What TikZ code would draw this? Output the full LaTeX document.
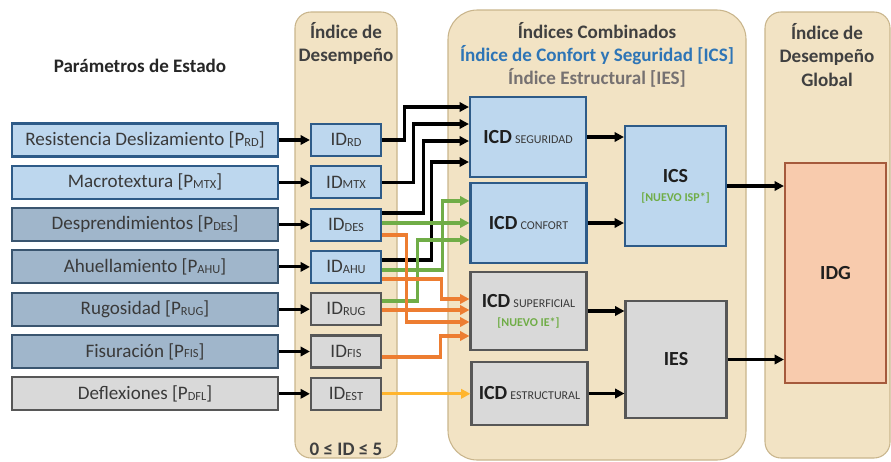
\documentclass[tikz,border=0pt]{standalone}
\usepackage{fontspec}
\setmainfont{Carlito}
\usetikzlibrary{arrows.meta}

\definecolor{panelbg}{HTML}{F2E3C4}
\definecolor{panelline}{HTML}{C9B58C}
\definecolor{boxblue}{HTML}{BDD7EE}
\definecolor{lineblue}{HTML}{2E5B88}
\definecolor{boxsteel}{HTML}{A0B6CB}
\definecolor{linesteel}{HTML}{3A556F}
\definecolor{boxgray}{HTML}{D9D9D9}
\definecolor{linegray}{HTML}{575757}
\definecolor{idgfill}{HTML}{F8CBAD}
\definecolor{idgline}{HTML}{A55A3C}
\definecolor{wiregreen}{HTML}{70AD47}
\definecolor{wireorange}{HTML}{ED7D31}
\definecolor{wireyellow}{HTML}{FFB52E}
\definecolor{ttlblue}{HTML}{2E75B6}
\definecolor{ttlgray}{HTML}{767171}
\definecolor{txt}{HTML}{3A3A3A}
\definecolor{titletxt}{HTML}{404040}

\newcommand{\sbs}[1]{\raisebox{-0.6pt}{\fontsize{9.3}{10}\selectfont #1}}
\newcommand{\icd}[1]{{\bfseries\color{black!88}\fontsize{15}{17}\selectfont ICD}\,{\fontsize{9}{10}\selectfont #1}}
\newcommand{\nuevo}[1]{{\fontsize{9}{10}\selectfont\bfseries\color{wiregreen}#1}}

\begin{document}
\begin{tikzpicture}[x=0.75pt,y=-0.75pt,
    every node/.style={font=\fontsize{14.3}{17.3}\selectfont,text=txt,inner sep=0pt},
    panel/.style={draw=panelline,fill=panelbg,line width=0.8pt,rounded corners=12pt},
    param/.style={draw,line width=1.6pt,minimum width=199.5pt,minimum height=24.75pt},
    idbox/.style={draw,line width=1.6pt,minimum width=52.5pt,minimum height=24pt},
    icd/.style={draw,line width=1.6pt,minimum width=87pt,align=center},
    bigbox/.style={draw,line width=1.6pt,minimum width=75.75pt,align=center,
                   font=\bfseries\fontsize{15}{17}\selectfont,text=black!88},
    bluebox/.style={fill=boxblue,draw=lineblue},
    steelbox/.style={fill=boxsteel,draw=linesteel},
    graybox/.style={fill=boxgray,draw=linegray},
    title/.style={font=\bfseries\fontsize{14.3}{17.3}\selectfont,text=titletxt,align=center},
    wire/.style={line width=2.3pt,-{Triangle[length=7pt,width=7pt]}},
    blk/.style={wire,draw=black},
    grn/.style={wire,draw=wiregreen},
    org/.style={wire,draw=wireorange},
    ylw/.style={wire,draw=wireyellow}]
  \useasboundingbox (0,0) rectangle (891,461);
  % columns
  \draw[panel] (295,12) rectangle (397,458);
  \draw[panel,rounded corners=22pt] (448,10) rectangle (746,460);
  \draw[panel] (765,12) rectangle (890,458);

  \node[title,text=black!85] (ttlparam) at (140,66) {Parámetros de Estado};
  \node[title] (ttlid) at (346,43.5) {Índice de\\Desempeño};
  \node[title] (ttlcomb) at (597,54.5) {Índices Combinados\\
    \textcolor{ttlblue}{Índice de Confort y Seguridad [ICS]}\\
    \textcolor{ttlgray}{Índice Estructural [IES]}};
  \node[title] (ttlglobal) at (827,55) {Índice de\\Desempeño\\Global};
  \node[title] (range) at (346,449) {0 ≤ ID ≤ 5};

  % state parameters and their indices
  \foreach \nm/\txt/\ps/\is/\isub [count=\i from 0] in {
      rd/Resistencia Deslizamiento [P\sbs{RD}]/bluebox/bluebox/RD,
      mtx/Macrotextura [P\sbs{MTX}]/bluebox/bluebox/MTX,
      des/Desprendimientos [P\sbs{DES}]/steelbox/bluebox/DES,
      ahu/Ahuellamiento [P\sbs{AHU}]/steelbox/bluebox/AHU,
      rug/Rugosidad [P\sbs{RUG}]/steelbox/graybox/RUG,
      fis/Fisuración [P\sbs{FIS}]/steelbox/graybox/FIS,
      dfl/Deflexiones [P\sbs{DFL}]/graybox/graybox/EST}{
    \node[param,\ps] (p\nm) at (145,{140+42.3*\i}) {\txt};
    \node[idbox,\is] (id\nm) at (346,{140+42.3*\i}) {ID\sbs{\isub}};
    \draw[blk] (p\nm) -- (id\nm);
  }

  % combined indices
  \node[icd,bluebox,minimum height=60pt] (seg) at (528,137) {\icd{SEGURIDAD}};
  \node[icd,bluebox,minimum height=60pt] (conf) at (528.5,223) {\icd{CONFORT}};
  \node[icd,graybox,minimum height=58.5pt] (sup) at (528.5,311)
    {\icd{SUPERFICIAL}\\[-3pt]\nuevo{[NUEVO IE*]}};
  \node[icd,graybox,minimum height=47pt] (est) at (529.5,393.5) {\icd{ESTRUCTURAL}};
  \node[bigbox,bluebox,minimum height=90pt] (ics) at (675.5,186)
    {ICS\\[-3pt]\nuevo{[NUEVO ISP*]}};
  \node[bigbox,graybox,minimum height=87.75pt] (ies) at (676,359.5) {IES};
  \node[bigbox,fill=idgfill,draw=idgline,minimum height=165pt] (idg) at (835.5,273) {IDG};

  % seguridad
  \draw[blk] (idrd.east) -- ++(22,0) |- (seg.west |- 0,107);
  \draw[blk] (idmtx.east) -- ++(31,0) |- (seg.west |- 0,124);
  \draw[blk] (iddes.east |- 0,213) -- ++(41,0) |- (seg.west |- 0,141);
  \draw[blk] (idahu.east |- 0,260) -- ++(49,0) |- (seg.west |- 0,162);
  % confort
  \draw[grn] (idahu.east |- 0,270) -- ++(60,0) |- (conf.west |- 0,201);
  \draw[grn] (iddes.east |- 0,223) -- (conf.west |- 0,223);
  \draw[grn] (idrug.east |- 0,301) -- ++(35,0) |- (conf.west |- 0,240);
  % superficial
  \draw[org] (idahu.east |- 0,279) -- ++(59,0) |- (sup.west |- 0,299);
  \draw[org] (idrug.east |- 0,310) -- (sup.west |- 0,310);
  \draw[org] (iddes.east |- 0,235) -- ++(24,0) |- (sup.west |- 0,322);
  \draw[org] (idfis.east |- 0,357) -- ++(58,0) |- (sup.west |- 0,336);
  % estructural
  \draw[ylw] (iddfl.east) -- (est.west |- iddfl.east);

  \draw[blk] (seg.east) -- (ics.west |- seg.east);
  \draw[blk] (conf.east) -- (ics.west |- conf.east);
  \draw[blk] (sup.east) -- (ies.west |- sup.east);
  \draw[blk] (est.east) -- (ies.west |- est.east);
  \draw[blk] (ics.east) -- (idg.west |- ics.east);
  \draw[blk] (ies.east) -- (idg.west |- ies.east);
\end{tikzpicture}
\end{document}
